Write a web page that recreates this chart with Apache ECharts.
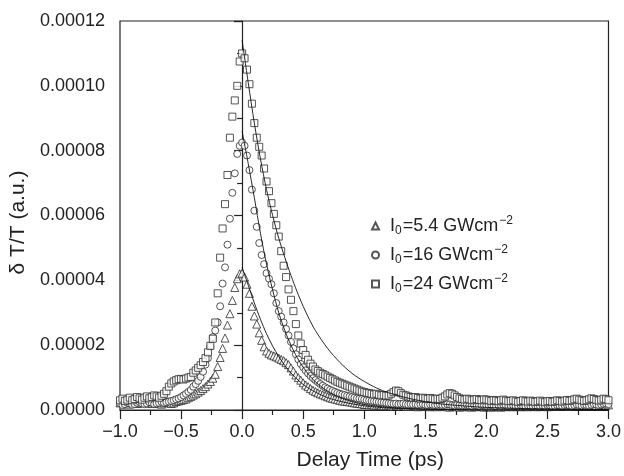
<!DOCTYPE html>
<html><head><meta charset="utf-8">
<script src="https://cdn.jsdelivr.net/npm/echarts@6/dist/echarts.min.js"></script>
<style>html,body{margin:0;padding:0;background:#fff}#c{width:624px;height:476px}</style>
</head><body><div id="c"></div>
<script>
// delay time (ps)
const delay = [
-1,-0.98,-0.96,-0.94,-0.92,-0.9,-0.88,-0.86,-0.84,-0.82,
-0.8,-0.78,-0.76,-0.74,-0.72,-0.7,-0.68,-0.66,-0.64,-0.62,
-0.6,-0.58,-0.56,-0.54,-0.52,-0.5,-0.48,-0.46,-0.44,-0.42,
-0.4,-0.38,-0.36,-0.34,-0.32,-0.3,-0.28,-0.26,-0.24,-0.22,
-0.2,-0.18,-0.16,-0.14,-0.12,-0.1,-0.08,-0.06,-0.04,-0.02,
0,0.02,0.04,0.06,0.08,0.1,0.12,0.14,0.16,0.18,
0.2,0.22,0.24,0.26,0.28,0.3,0.32,0.34,0.36,0.38,
0.4,0.42,0.44,0.46,0.48,0.5,0.52,0.54,0.56,0.58,
0.6,0.62,0.64,0.66,0.68,0.7,0.72,0.74,0.76,0.78,
0.8,0.82,0.84,0.86,0.88,0.9,0.92,0.94,0.96,0.98,
1,1.02,1.04,1.06,1.08,1.1,1.12,1.14,1.16,1.18,
1.2,1.22,1.24,1.26,1.28,1.3,1.32,1.34,1.36,1.38,
1.4,1.42,1.44,1.46,1.48,1.5,1.52,1.54,1.56,1.58,
1.6,1.62,1.64,1.66,1.68,1.7,1.72,1.74,1.76,1.78,
1.8,1.82,1.84,1.86,1.88,1.9,1.92,1.94,1.96,1.98,
2,2.02,2.04,2.06,2.08,2.1,2.12,2.14,2.16,2.18,
2.2,2.22,2.24,2.26,2.28,2.3,2.32,2.34,2.36,2.38,
2.4,2.42,2.44,2.46,2.48,2.5,2.52,2.54,2.56,2.58,
2.6,2.62,2.64,2.66,2.68,2.7,2.72,2.74,2.76,2.78,
2.8,2.82,2.84,2.86,2.88,2.9,2.92,2.94,2.96,2.98,
3];
// dT/T in units of 1e-5
const unit = 1e-5;
const tri54 = [
0.22,0.25,0.2,0.18,0.24,0.3,0.26,0.2,0.22,0.28,
0.32,0.27,0.22,0.2,0.25,0.22,0.2,0.18,0.22,0.25,
0.24,0.2,0.22,0.26,0.28,0.3,0.32,0.34,0.38,0.42,
0.46,0.5,0.55,0.6,0.66,0.72,0.8,0.88,0.98,1.1,
1.34,1.62,1.9,2.22,2.62,2.97,3.38,3.78,4.05,4.2,
4.22,4.1,3.88,3.6,3.2,2.9,2.65,2.38,2.15,1.95,
1.82,1.75,1.7,1.67,1.64,1.6,1.56,1.52,1.46,1.4,
1.3,1.2,1.08,1.0,0.92,0.84,0.77,0.72,0.66,0.61,
0.57,0.53,0.5,0.47,0.44,0.41,0.38,0.36,0.34,0.32,
0.3,0.28,0.27,0.26,0.25,0.24,0.22,0.21,0.2,0.19,
0.17,0.17,0.16,0.18,0.15,0.14,0.16,0.15,0.13,0.14,
0.15,0.13,0.12,0.14,0.13,0.12,0.14,0.12,0.11,0.12,
0.13,0.12,0.1,0.12,0.11,0.13,0.12,0.1,0.11,0.12,
0.1,0.12,0.11,0.13,0.1,0.09,0.11,0.12,0.1,0.09,
0.11,0.1,0.12,0.1,0.09,0.11,0.1,0.12,0.11,0.09,
0.1,0.11,0.09,0.1,0.12,0.1,0.09,0.11,0.1,0.12,
0.11,0.1,0.12,0.13,0.1,0.11,0.12,0.1,0.11,0.13,
0.12,0.1,0.11,0.13,0.12,0.1,0.12,0.14,0.12,0.11,
0.13,0.12,0.14,0.12,0.11,0.13,0.15,0.13,0.12,0.14,
0.15,0.13,0.12,0.14,0.16,0.14,0.13,0.15,0.17,0.15,
0.16];
const cir16 = [
0.2,0.15,0.18,0.22,0.2,0.16,0.18,0.22,0.25,0.2,
0.18,0.2,0.24,0.22,0.18,0.2,0.22,0.25,0.22,0.24,
0.26,0.28,0.3,0.33,0.36,0.4,0.45,0.5,0.56,0.62,
0.72,0.8,0.9,1.02,1.18,1.4,1.6,1.95,2.25,2.45,
2.7,3.2,3.9,4.4,5.1,5.9,6.7,7.3,7.9,8.15,
8.25,8.15,7.85,7.4,6.8,6.15,5.65,5.15,4.78,4.5,
4.22,4.05,3.88,3.6,3.3,3.05,2.88,2.7,2.5,2.3,
2.1,1.9,1.72,1.56,1.42,1.32,1.22,1.13,1.05,0.98,
0.92,0.86,0.8,0.75,0.7,0.66,0.62,0.59,0.56,0.53,
0.5,0.48,0.46,0.44,0.42,0.4,0.38,0.36,0.35,0.34,
0.32,0.3,0.29,0.28,0.27,0.26,0.25,0.24,0.23,0.22,
0.21,0.2,0.19,0.2,0.18,0.19,0.2,0.18,0.17,0.18,
0.17,0.18,0.16,0.17,0.18,0.16,0.15,0.17,0.16,0.15,
0.16,0.17,0.15,0.16,0.18,0.17,0.15,0.14,0.16,0.15,
0.14,0.15,0.16,0.14,0.13,0.15,0.14,0.13,0.15,0.14,
0.13,0.14,0.15,0.13,0.12,0.14,0.13,0.15,0.14,0.12,
0.13,0.14,0.12,0.13,0.15,0.13,0.12,0.14,0.13,0.12,
0.14,0.13,0.12,0.14,0.13,0.15,0.14,0.12,0.13,0.15,
0.14,0.13,0.15,0.16,0.14,0.13,0.15,0.17,0.15,0.14,
0.16,0.15,0.14,0.16,0.18,0.17,0.15,0.17,0.19,0.2,
0.18];
const sq24 = [
0.3,0.35,0.28,0.32,0.38,0.3,0.34,0.4,0.36,0.32,
0.38,0.42,0.36,0.4,0.45,0.42,0.38,0.44,0.5,0.58,
0.72,0.82,0.88,0.92,0.95,0.96,0.94,0.97,1.0,1.02,
1.15,1.22,1.3,1.38,1.48,1.6,1.78,1.98,2.2,2.7,
3.6,4.7,5.6,6.35,7.25,8.4,9.05,9.55,10.0,10.75,
11.0,10.85,10.5,10.05,9.45,8.85,8.4,8.12,7.85,7.45,
7.05,6.75,6.38,6.05,5.7,5.35,4.9,4.45,4.1,3.72,
3.4,3.05,2.65,2.3,2.05,1.85,1.7,1.55,1.43,1.34,
1.25,1.2,1.15,1.11,1.07,1.03,0.99,0.95,0.91,0.87,
0.84,0.81,0.78,0.75,0.72,0.69,0.66,0.63,0.6,0.57,
0.55,0.53,0.52,0.5,0.48,0.5,0.47,0.45,0.46,0.44,
0.45,0.5,0.55,0.6,0.58,0.52,0.47,0.45,0.42,0.4,
0.38,0.4,0.37,0.35,0.38,0.36,0.34,0.37,0.35,0.33,
0.35,0.34,0.38,0.42,0.48,0.52,0.5,0.45,0.4,0.36,
0.34,0.32,0.35,0.33,0.3,0.32,0.34,0.31,0.3,0.33,
0.32,0.3,0.28,0.31,0.29,0.27,0.3,0.32,0.29,0.27,
0.28,0.3,0.27,0.25,0.28,0.3,0.27,0.26,0.29,0.27,
0.25,0.27,0.29,0.26,0.24,0.27,0.28,0.25,0.27,0.3,
0.28,0.26,0.29,0.31,0.28,0.3,0.33,0.35,0.32,0.3,
0.28,0.3,0.33,0.36,0.34,0.31,0.29,0.32,0.35,0.33,
0.3];
// fitted decay curves (units of 1e-5)
const fitDelay = [0,0.05,0.1,0.15,0.2,0.25,0.3,0.35,0.4,0.45,0.5,0.55,0.6,0.7,0.8,0.9,1.0,1.1,1.2,1.4,1.6,1.8,2.0,2.5,3.0];
const fitTri54 = [4.4,3.85,3.3,2.8,2.35,1.97,1.65,1.37,1.14,0.95,0.79,0.66,0.55,0.38,0.27,0.19,0.13,0.09,0.06,0.03,0.015,0.01,0,0,0];
const fitCir16 = [8.6,7.6,6.55,5.45,4.5,3.7,3.0,2.45,2.0,1.62,1.32,1.07,0.87,0.58,0.39,0.26,0.17,0.12,0.08,0.04,0.02,0.01,0,0,0];
const fitSq24 = [11.4,10.1,8.85,7.75,6.8,6.0,5.3,4.7,4.15,3.65,3.2,2.8,2.45,1.9,1.47,1.13,0.88,0.68,0.53,0.33,0.2,0.13,0.08,0.03,0.01];

const intens = ['5.4','16','24'];
const names = intens.map(v => 'I0=' + v + ' GWcm-2');
const FONT = "'Liberation Sans', Arial, Helvetica, sans-serif";
const ink = '#222';

function pts(xs, ys){ return xs.map((x,i)=>[x, ys[i]*unit]); }

const markerStyle = {color:'#fff', borderColor:'#2a2a2a', borderWidth:1};
function scatter(name, sym, size, ys){
  return {name, type:'scatter', symbol:sym, symbolSize:size, data:pts(delay, ys),
    itemStyle:markerStyle, z:2, emphasis:{disabled:true}};
}
function fit(ys){
  return {type:'line', data:pts(fitDelay, ys), showSymbol:false, smooth:0.3, silent:true,
    lineStyle:{color:'#111', width:0.9}, z:5};
}

const chart = echarts.init(document.getElementById('c'), null, {renderer:'canvas'});
chart.setOption({
  animation:false,
  backgroundColor:'#fff',
  textStyle:{fontFamily:FONT},
  grid:{left:120, right:12, top:21, bottom:61, show:true, borderColor:ink, borderWidth:1.2, backgroundColor:'transparent'},
  legend:{
    data:names, orient:'vertical', left:366, top:210, itemWidth:7, itemHeight:7, itemGap:7,
    selectedMode:false,
    formatter:(n)=>{const k=names.indexOf(n); return '{g|}{n|I}{s|0}{n|='+intens[k]+' GWcm}{p|\u22122}';},
    textStyle:{fontFamily:FONT, color:ink, rich:{
      g:{width:6},
      n:{fontSize:18, fontFamily:FONT, color:ink, lineHeight:22, verticalAlign:'middle'},
      s:{fontSize:12, fontFamily:FONT, color:ink, lineHeight:22, verticalAlign:'bottom', padding:[10,1,0,0]},
      p:{fontSize:12, fontFamily:FONT, color:ink, lineHeight:22, verticalAlign:'top', padding:[0,0,10,1]}
    }}
  },
  xAxis:{type:'value', min:-1, max:3, interval:0.5,
    name:'Delay Time (ps)', nameLocation:'middle', nameGap:40,
    nameTextStyle:{fontSize:21, color:ink, fontFamily:FONT, padding:[0,0,0,12]},
    axisLine:{show:true, lineStyle:{color:ink, width:1.2}},
    axisTick:{show:true, inside:false, length:9, lineStyle:{color:ink, width:1.2}},
    minorTick:{show:true, splitNumber:2, length:5, lineStyle:{color:ink, width:1.2}},
    splitLine:{show:false},
    axisLabel:{fontSize:18, color:ink, margin:13, fontFamily:FONT,
      formatter:(v)=>v.toFixed(1).replace('-','\u2212')}
  },
  yAxis:{type:'value', min:0, max:12*unit, interval:2*unit,
    name:'\u03b4 T/T (a.u.)', nameLocation:'middle', nameGap:86,
    nameTextStyle:{fontSize:21, color:ink, fontFamily:FONT, padding:[0,14,0,0]},
    axisLine:{show:true, lineStyle:{color:ink, width:1.2}},
    axisTick:{show:true, inside:false, length:8, lineStyle:{color:ink, width:1.2}},
    minorTick:{show:true, splitNumber:2, length:5, lineStyle:{color:ink, width:1.2}},
    splitLine:{show:false},
    axisLabel:{fontSize:18, color:ink, margin:15, fontFamily:FONT,
      formatter:(v)=>v.toFixed(5)}
  },
  series:[
    scatter(names[0], 'triangle', 8, tri54),
    scatter(names[1], 'circle', 7, cir16),
    scatter(names[2], 'rect', 7, sq24),
    fit(fitTri54), fit(fitCir16), fit(fitSq24)
  ]
});
</script></body></html>
